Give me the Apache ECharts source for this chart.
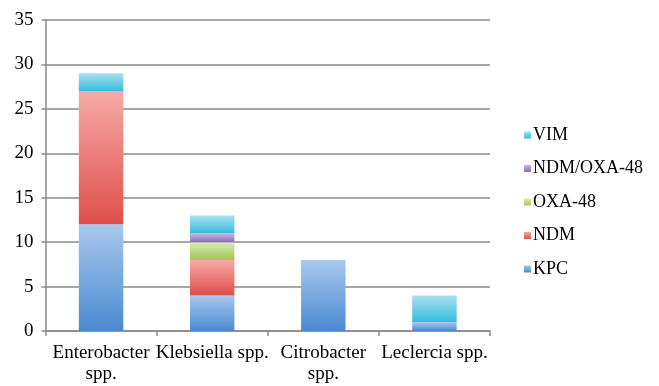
<!DOCTYPE html>
<html>
<head>
<meta charset="utf-8">
<script src="https://cdn.jsdelivr.net/npm/echarts@6/dist/echarts.min.js"></script>
<style>
html,body{margin:0;padding:0;background:#fff;}
#chart{width:659px;height:386px;}
</style>
</head>
<body>
<div id="chart"></div>
<script>
const categories = ['Enterobacter\nspp.', 'Klebsiella spp.', 'Citrobacter\nspp.', 'Leclercia spp.'];
const seriesNames = ['KPC', 'NDM', 'OXA-48', 'NDM/OXA-48', 'VIM'];
const kpc = [12, 4, 8, 1];
const ndm = [15, 4, 0, 0];
const oxa48 = [0, 2, 0, 0];
const ndmOxa48 = [0, 1, 0, 0];
const vim = [2, 2, 0, 3];
const yTicks = [0, 5, 10, 15, 20, 25, 30, 35];

const values = [kpc, ndm, oxa48, ndmOxa48, vim];
const grads = [
  ['#a9c8ee', '#4a8ad0'],
  ['#f6aaa7', '#df4f4a'],
  ['#dbe9b6', '#a2c857'],
  ['#c6b6e0', '#8a6cb8'],
  ['#abdff0', '#33bddb']
];
const legendColors = ['#5a96d8', '#e8625c', '#a9d060', '#9a84c4', '#48c2de'];

const chart = echarts.init(document.getElementById('chart'));
const font = 'serif';
chart.setOption({
  animation: false,
  textStyle: { fontFamily: font },
  grid: { left: 45.5, right: 169, top: 20, bottom: 55 },
  legend: {
    orient: 'vertical',
    left: 519,
    top: 121,
    itemWidth: 7,
    itemHeight: 7,
    itemGap: 15.5,
    icon: 'rect',
    data: ['VIM', 'NDM/OXA-48', 'OXA-48', 'NDM', 'KPC'],
    textStyle: { fontFamily: font, fontSize: 18, color: '#000', lineHeight: 18, padding: [0, 0, 0, -3] }
  },
  xAxis: {
    type: 'category',
    data: categories,
    axisLine: { lineStyle: { color: '#8a8a8a', width: 1.5 } },
    axisTick: { show: true, length: 5, lineStyle: { color: '#8a8a8a', width: 1.5 } },
    axisLabel: { fontFamily: font, fontSize: 19, color: '#000', margin: 12, lineHeight: 21, interval: 0 }
  },
  yAxis: {
    type: 'value',
    min: yTicks[0],
    max: yTicks[yTicks.length - 1],
    interval: 5,
    axisLine: { show: true, lineStyle: { color: '#8a8a8a', width: 1.5 } },
    axisTick: { show: true, length: 4, lineStyle: { color: '#8a8a8a', width: 1.5 } },
    splitLine: { lineStyle: { color: '#8a8a8a', width: 1.5 } },
    axisLabel: { fontFamily: font, fontSize: 19, color: '#000', margin: 12 }
  },
  series: seriesNames.map((name, i) => ({
    name: name,
    type: 'bar',
    stack: 'total',
    barCategoryGap: '60%',
    data: values[i].map(v => v === 0 ? null : v),
    color: legendColors[i],
    itemStyle: {
      color: new echarts.graphic.LinearGradient(0, 0, 0, 1, [
        { offset: 0, color: grads[i][0] },
        { offset: 1, color: grads[i][1] }
      ])
    }
  }))
});
</script>
</body>
</html>
